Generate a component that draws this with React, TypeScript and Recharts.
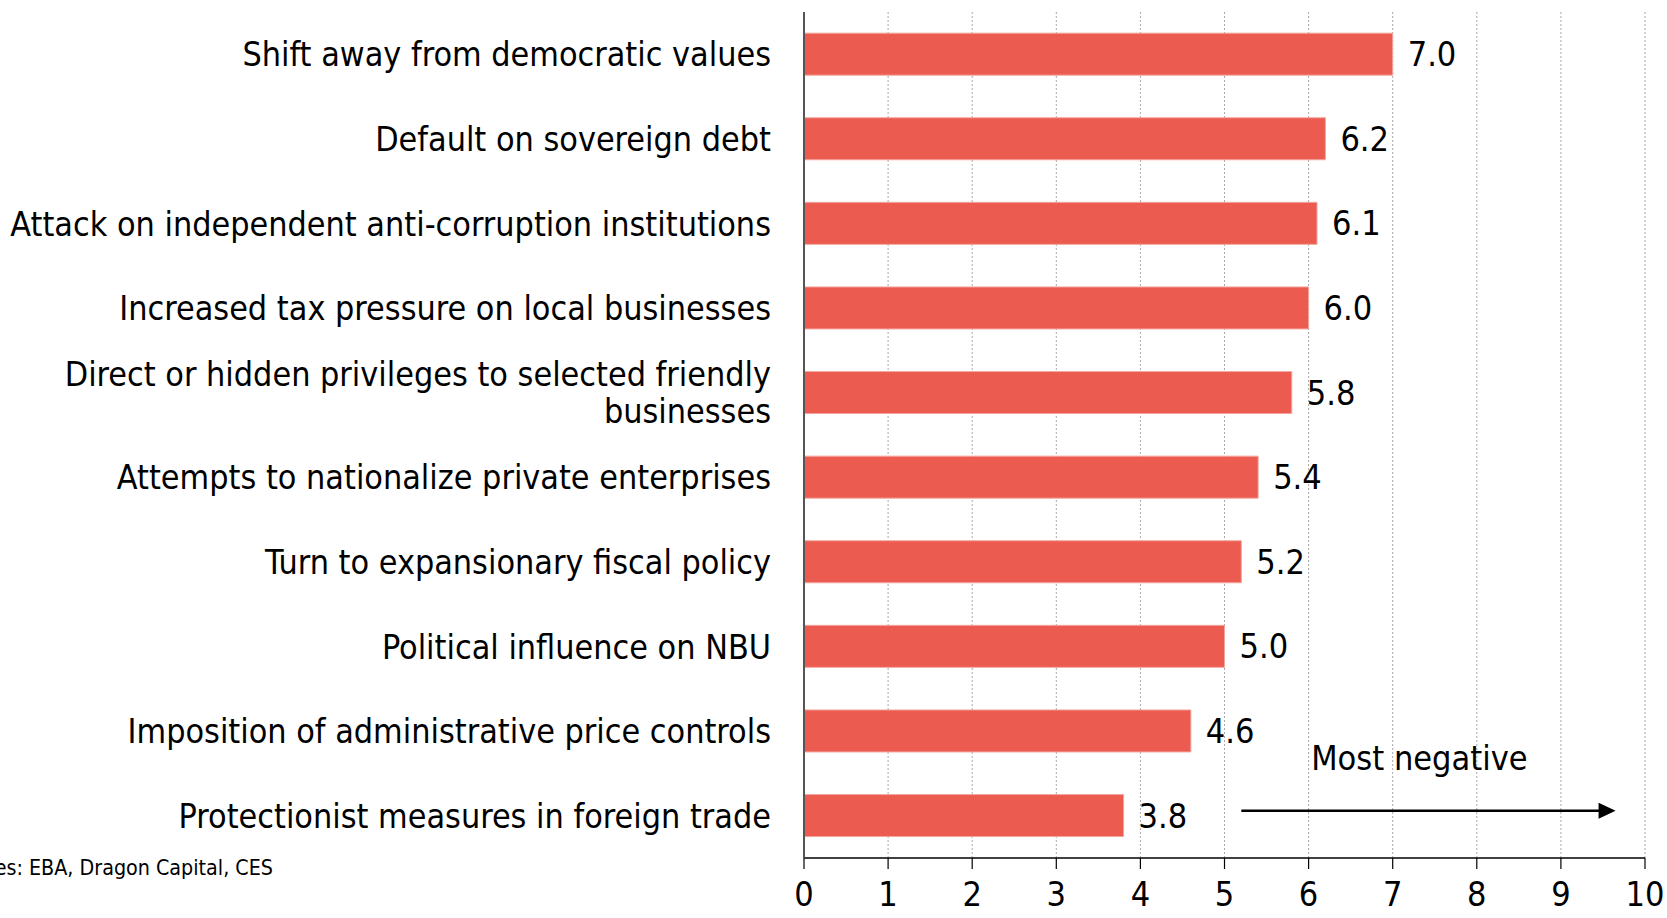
import { Bar, BarChart, CartesianGrid, LabelList, ReferenceLine, XAxis, YAxis } from "recharts";

const FONT = "Tahoma, 'DejaVu Sans Condensed', 'DejaVu Sans', sans-serif";
const BAR_RED = "#EB5B50";

// top to bottom as drawn
const risks = [
  "Shift away from democratic values",
  "Default on sovereign debt",
  "Attack on independent anti-corruption institutions",
  "Increased tax pressure on local businesses",
  "Direct or hidden privileges to selected friendly\nbusinesses",
  "Attempts to nationalize private enterprises",
  "Turn to expansionary fiscal policy",
  "Political influence on NBU",
  "Imposition of administrative price controls",
  "Protectionist measures in foreign trade",
];
const scores = [7.0, 6.2, 6.1, 6.0, 5.8, 5.4, 5.2, 5.0, 4.6, 3.8];
const xTicks = [0, 1, 2, 3, 4, 5, 6, 7, 8, 9, 10];
const arrowFrom = 5.2;
const arrowTo = 9.65;
const arrowLabel = "Most negative";
const sourceNote = "Sources: EBA, Dragon Capital, CES";

const data = risks.map((name, i) => ({ name, score: scores[i] }));

function RiskTick(props: any) {
  const { x, y, payload } = props;
  const lines = String(payload.value).split("\n");
  const lh = 37;
  const start = y - ((lines.length - 1) * lh) / 2;
  return (
    <text
      x={x - 31}
      y={start}
      textAnchor="end"
      dominantBaseline="central"
      fontFamily={FONT}
      fontSize={33.8}
      fill="#000"
    >
      {lines.map((l, i) => (
        <tspan key={i} x={x - 31} y={start + i * lh}>
          {l}
        </tspan>
      ))}
    </text>
  );
}

function Arrow(props: any) {
  const { x1, y1, x2 } = props;
  const y = y1 - 5;
  return (
    <g>
      <line x1={x1} y1={y} x2={x2 - 14} y2={y} stroke="#000" strokeWidth={2.5} />
      <polygon points={`${x2},${y} ${x2 - 17},${y - 8} ${x2 - 17},${y + 8}`} fill="#000" />
      <text
        x={(x1 + x2) / 2 - 9}
        y={y - 53}
        textAnchor="middle"
        dominantBaseline="central"
        fontFamily={FONT}
        fontSize={34}
        fill="#000"
      >
        {arrowLabel}
      </text>
    </g>
  );
}

export default function App() {
  const last = risks[risks.length - 1];
  return (
    <div style={{ position: "absolute", left: 0, top: 0, width: 1667, height: 918, background: "#fff" }}>
      <BarChart
        width={1667}
        height={918}
        data={data}
        layout="vertical"
        barCategoryGap="25%"
        margin={{ top: 12, right: 22, bottom: 0, left: 0 }}
      >
        <CartesianGrid horizontal={false} stroke="#a8a8a8" strokeDasharray="2 2" />
        <XAxis
          type="number"
          domain={[0, 10]}
          ticks={xTicks}
          interval={0}
          height={60}
          tickSize={11}
          tickMargin={13}
          axisLine={{ stroke: "#000", strokeWidth: 1.5 }}
          tickLine={{ stroke: "#000", strokeWidth: 1.2 }}
          tick={{ fill: "#000", fontSize: 34, fontFamily: FONT }}
        />
        <YAxis
          type="category"
          dataKey="name"
          width={804}
          interval={0}
          tickLine={false}
          tickSize={0}
          axisLine={{ stroke: "#555", strokeWidth: 2 }}
          tick={<RiskTick />}
        />
        <Bar dataKey="score" fill={BAR_RED} stroke="#f3a59e" strokeWidth={1} isAnimationActive={false}>
          <LabelList
            dataKey="score"
            position="right"
            offset={15}
            formatter={(v: any) => Number(v).toFixed(1)}
            style={{ fill: "#000", fontSize: 34, fontFamily: FONT }}
          />
        </Bar>
        <ReferenceLine
          segment={[
            { x: arrowFrom, y: last },
            { x: arrowTo, y: last },
          ]}
          shape={<Arrow />}
          ifOverflow="visible"
        />
      </BarChart>
      <div
        style={{
          position: "absolute",
          right: 1667 - 273,
          top: 855,
          fontFamily: FONT,
          fontSize: 21.3,
          whiteSpace: "nowrap",
          color: "#000",
        }}
      >
        {sourceNote}
      </div>
    </div>
  );
}
